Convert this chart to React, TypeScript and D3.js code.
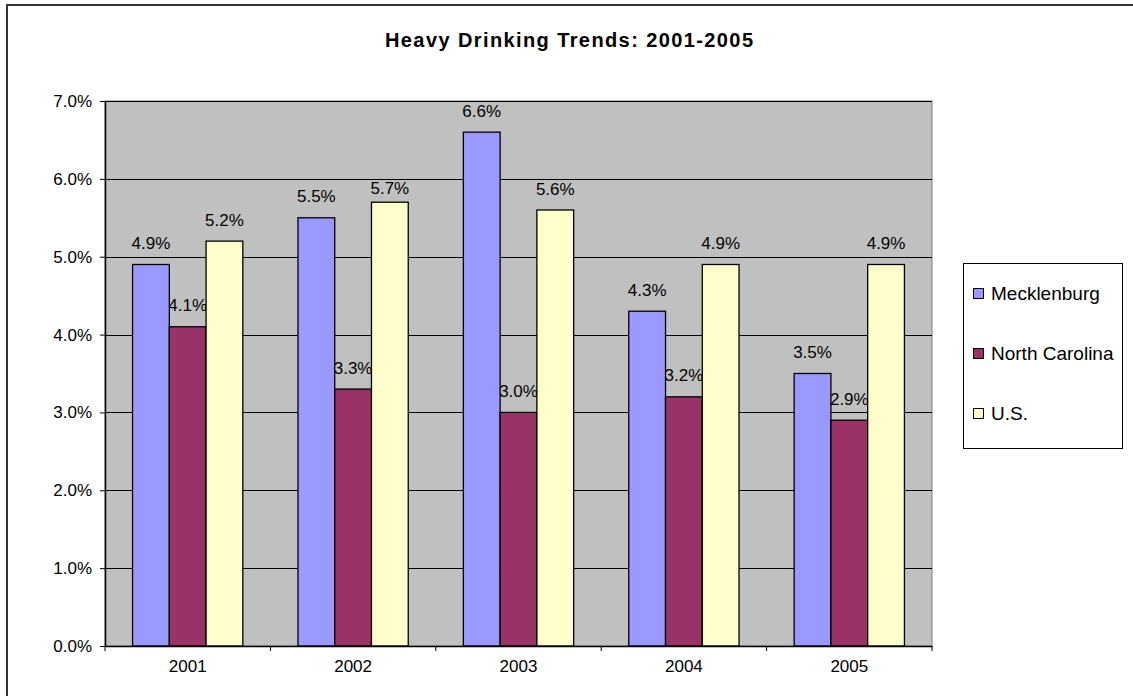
import * as d3 from "d3";
import { useEffect, useRef } from "react";

const years = ["2001", "2002", "2003", "2004", "2005"];
const seriesNames = ["Mecklenburg", "North Carolina", "U.S."];
const mecklenburg = [4.9, 5.5, 6.6, 4.3, 3.5];
const northCarolina = [4.1, 3.3, 3.0, 3.2, 2.9];
const us = [5.2, 5.7, 5.6, 4.9, 4.9];
const yTicks = [0, 1, 2, 3, 4, 5, 6, 7];

const colors = ["#9999FF", "#993366", "#FFFFCC"];
// one label in the source was dragged closer to its bar
const labelNudge: Record<string, number> = { "2002-2": 7 };

export default function App() {
  const svgRef = useRef<SVGSVGElement>(null);

  useEffect(() => {
    if (!svgRef.current) return;
    const svg = d3.select<SVGSVGElement, unknown>(svgRef.current);
    svg.selectAll("*").remove();

    const width = 1133;
    const height = 696;
    const plot = { left: 105, right: 932, top: 101, bottom: 646 };
    const font = "Arial, 'Liberation Sans', sans-serif";

    svg.append("rect").attr("width", width).attr("height", height).attr("fill", "#fff");

    // chart frame (only top and left edges are visible in the crop)
    svg
      .append("path")
      .attr("d", `M7,${height} V5 H${width}`)
      .attr("fill", "none")
      .attr("stroke", "#333")
      .attr("stroke-width", 2);

    // title
    svg
      .append("text")
      .attr("x", 569)
      .attr("y", 47)
      .attr("text-anchor", "middle")
      .attr("font-family", font)
      .attr("font-weight", "bold")
      .attr("font-size", 20)
      .attr("textLength", 368)
      .attr("lengthAdjust", "spacing")
      .text("Heavy Drinking Trends: 2001-2005");

    const x = d3.scaleBand<string>().domain(years).range([plot.left, plot.right]).paddingInner(0).paddingOuter(0);
    const y = d3.scaleLinear().domain([0, 7]).range([plot.bottom, plot.top]);
    const barW = x.bandwidth() / 4.5;
    const x1 = d3
      .scaleBand<number>()
      .domain([0, 1, 2])
      .range([barW * 0.75, barW * 3.75])
      .padding(0);

    // plot area
    svg
      .append("rect")
      .attr("x", plot.left)
      .attr("y", plot.top)
      .attr("width", plot.right - plot.left)
      .attr("height", plot.bottom - plot.top)
      .attr("fill", "#C0C0C0")
      .attr("stroke", "#808080")
      .attr("stroke-width", 1);

    // gridlines
    svg
      .append("g")
      .selectAll("line")
      .data(yTicks.slice(1))
      .enter()
      .append("line")
      .attr("x1", plot.left)
      .attr("x2", plot.right)
      .attr("y1", (d) => Math.round(y(d)) + 0.5)
      .attr("y2", (d) => Math.round(y(d)) + 0.5)
      .attr("stroke", "#000")
      .attr("stroke-width", 1);

    const table = years.map((yr, i) => ({
      year: yr,
      values: [mecklenburg[i], northCarolina[i], us[i]],
    }));
    const flat = table.flatMap((row) => row.values.map((v, s) => ({ year: row.year, s, v })));

    // data labels sit underneath the bars, as in the source
    svg
      .append("g")
      .selectAll("text")
      .data(flat)
      .enter()
      .append("text")
      .attr("x", (d) => (x(d.year) ?? 0) + (x1(d.s) ?? 0) + barW / 2)
      .attr("y", (d) => y(d.v) - 15.5 + (labelNudge[`${d.year}-${d.s}`] ?? 0))
      .attr("text-anchor", "middle")
      .attr("font-family", font)
      .attr("font-size", 17)
      .attr("fill", "#000")
      .text((d) => d.v.toFixed(1) + "%");

    // bars
    svg
      .append("g")
      .selectAll("rect")
      .data(flat)
      .enter()
      .append("rect")
      .attr("x", (d) => (x(d.year) ?? 0) + (x1(d.s) ?? 0))
      .attr("y", (d) => y(d.v))
      .attr("width", barW)
      .attr("height", (d) => y(0) - y(d.v))
      .attr("fill", (d) => colors[d.s])
      .attr("stroke", "#000")
      .attr("stroke-width", 1.3);

    // y axis
    const yAxis = d3
      .axisLeft(y)
      .tickValues(yTicks)
      .tickFormat((d) => (d as number).toFixed(1) + "%")
      .tickSizeInner(5)
      .tickSizeOuter(0)
      .tickPadding(8);
    const yG = svg.append("g").attr("transform", `translate(${plot.left},0)`).call(yAxis);
    yG.select(".domain").attr("stroke", "#000").attr("stroke-width", 1.5);
    yG.selectAll(".tick line").attr("stroke", "#000");
    yG.selectAll(".tick text")
      .attr("font-family", font)
      .attr("font-size", 17)
      .attr("fill", "#000");

    // x axis with ticks on category boundaries
    const xAxis = d3.axisBottom(x).tickSize(0).tickPadding(14);
    const xG = svg.append("g").attr("transform", `translate(0,${plot.bottom})`).call(xAxis);
    xG.select(".domain").attr("stroke", "#000").attr("stroke-width", 1.5);
    xG.selectAll(".tick text")
      .attr("font-family", font)
      .attr("font-size", 17)
      .attr("fill", "#000");
    xG.selectAll("line.bound")
      .data(years.map((yr) => x(yr) ?? 0).concat([plot.right]))
      .enter()
      .append("line")
      .attr("class", "bound")
      .attr("x1", (d) => d)
      .attr("x2", (d) => d)
      .attr("y1", 0)
      .attr("y2", 5)
      .attr("stroke", "#000");

    // legend
    const legend = svg.append("g");
    legend
      .append("rect")
      .attr("x", 963.5)
      .attr("y", 263.5)
      .attr("width", 159)
      .attr("height", 185)
      .attr("fill", "#fff")
      .attr("stroke", "#000");
    const items = legend
      .selectAll("g.item")
      .data(seriesNames)
      .enter()
      .append("g")
      .attr("class", "item")
      .attr("transform", (_, i) => `translate(973,${293 + i * 60})`);
    items
      .append("rect")
      .attr("x", 0.5)
      .attr("y", -4.5)
      .attr("width", 10)
      .attr("height", 10)
      .attr("fill", (_, i) => colors[i])
      .attr("stroke", "#000");
    items
      .append("text")
      .attr("x", 18)
      .attr("y", 6.5)
      .attr("font-family", font)
      .attr("font-size", 19)
      .attr("fill", "#000")
      .text((d) => d);
  }, []);

  return (
    <svg
      ref={svgRef}
      width={1133}
      height={696}
      style={{ position: "absolute", left: 0, top: 0, display: "block" }}
    ></svg>
  );
}
